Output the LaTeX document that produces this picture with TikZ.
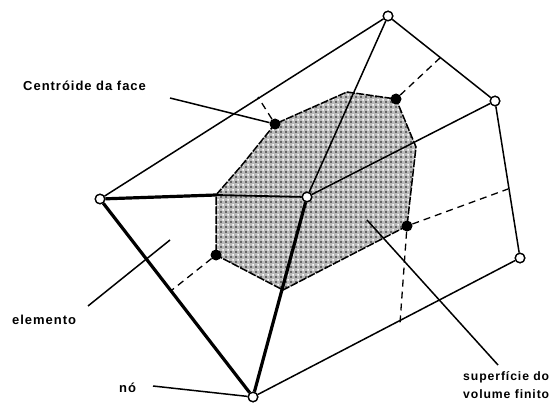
\documentclass[tikz,border=0pt]{standalone}
\usepackage{fontspec}
\setmainfont[LetterSpace=7.5]{Liberation Sans}
\usetikzlibrary{patterns}
\pgfdeclarepatternformonly{facedots}{\pgfqpoint{0pt}{0pt}}{\pgfqpoint{5pt}{5pt}}{\pgfqpoint{5pt}{5pt}}{%
  \pgfpathrectangle{\pgfqpoint{0.2pt}{0.2pt}}{\pgfqpoint{1.9pt}{1.9pt}}%
  \pgfusepath{fill}%
}
\pgfdeclarepatternformonly{facewhite}{\pgfqpoint{0pt}{0pt}}{\pgfqpoint{5pt}{5pt}}{\pgfqpoint{5pt}{5pt}}{%
  \pgfpathrectangle{\pgfqpoint{2.7pt}{2.7pt}}{\pgfqpoint{1.9pt}{1.9pt}}%
  \pgfusepath{fill}%
}
\begin{document}
\begin{tikzpicture}[
        x=1pt, y=-1pt,
        noh/.style={circle, draw, fill=white, line width=1.3pt, minimum size=9.5pt, inner sep=0pt},
        centro/.style={circle, fill=black, minimum size=11pt, inner sep=0pt},
        rotulo/.style={font=\bfseries\fontsize{13}{18}\selectfont, inner sep=0pt, align=left},
        rotulob/.style={font=\bfseries\fontsize{12.2}{18}\selectfont, inner sep=0pt, align=left},
        fino/.style={draw, line width=1.5pt},
        grosso/.style={draw, line width=3.2pt},
        traco/.style={draw, line width=1.3pt, dash pattern=on 7pt off 5pt},
        face/.style={fill=gray!55, postaction={pattern=facewhite, pattern color=white}, postaction={pattern=facedots, pattern color=black!60}},
        faceborda/.style={draw, line width=1.5pt, dash pattern=on 8pt off 1.5pt}
    ]
        \useasboundingbox (0,0) rectangle (553,403);

        % superficie do volume finito
        \coordinate (v1) at (216,195);
        \coordinate (v2) at (242,165);
        \coordinate (v3) at (347,92);
        \coordinate (v4) at (416,147);
        \coordinate (v5) at (283,290);
        \path[face] (v1) -- (v2) -- (275,124) -- (v3) -- (396,99) -- (v4) -- (407,226) -- (v5) -- (216,255) -- cycle;
        \path[faceborda] (v1) -- (v2) -- (275,124) -- (v3) -- (396,99) -- (v4) -- (407,226) -- (v5) -- (216,255) -- cycle;

        % nos e centroides
        \node[noh] (A) at (100,199) {};
        \node[noh] (C) at (307,197) {};
        \node[noh] (T) at (388,16) {};
        \node[noh] (R) at (495,101) {};
        \node[noh] (Q) at (520,258) {};
        \node[noh] (B) at (253,397) {};
        \node[centro] (c1) at (275,124) {};
        \node[centro] (c2) at (396,99) {};
        \node[centro] (c3) at (407,226) {};
        \node[centro] (c4) at (216,255) {};

        % pontos medios das arestas
        \coordinate (m1) at (258,97);
        \coordinate (m2) at (441,57);
        \coordinate (m3) at (508,189);
        \coordinate (m4) at (400,323);
        \coordinate (m5) at (172,290);

        \path[traco] (c1) -- (m1);
        \path[traco] (c2) -- (m2);
        \path[traco] (c3) -- (m3);
        \path[traco] (c3) -- (m4);
        \path[traco] (c4) -- (m5);

        \path[fino] (A) -- (T);
        \path[fino] (T) -- (R);
        \path[fino] (R) -- (Q);
        \path[fino] (Q) -- (B);
        \path[fino] (C) -- (T);
        \path[fino] (C) -- (R);
        \path[grosso] (A) -- (v1);
        \path[draw, line width=1.8pt] (v1) -- (C);
        \path[grosso] (A) -- (B);
        \path[grosso] (B) -- (C);

        \node[noh] at (A) {};
        \node[noh] at (C) {};
        \node[noh] at (T) {};
        \node[noh] at (R) {};
        \node[noh] at (Q) {};
        \node[noh] at (B) {};

        % rotulos
        \node[rotulo, anchor=west] (lface) at (23,86) {Centróide da face};
        \node[rotulo, anchor=west] (lelem) at (12,320) {elemento};
        \node[rotulo, anchor=west] (lno) at (119,388) {nó};
        \node[rotulob, anchor=north west] (lsup) at (463,371) {superfície do\\volume finito};

        \coordinate (p1) at (170,98);
        \coordinate (p2) at (88,306);
        \coordinate (p3) at (170,240);
        \coordinate (p4) at (153,386);
        \coordinate (p5) at (367,220);
        \coordinate (p6) at (498,365);

        \path[fino] (p1) -- (c1);
        \path[fino] (p2) -- (p3);
        \path[fino] (p4) -- (B);
        \path[fino] (p5) -- (p6);
    \end{tikzpicture}
\end{document}
